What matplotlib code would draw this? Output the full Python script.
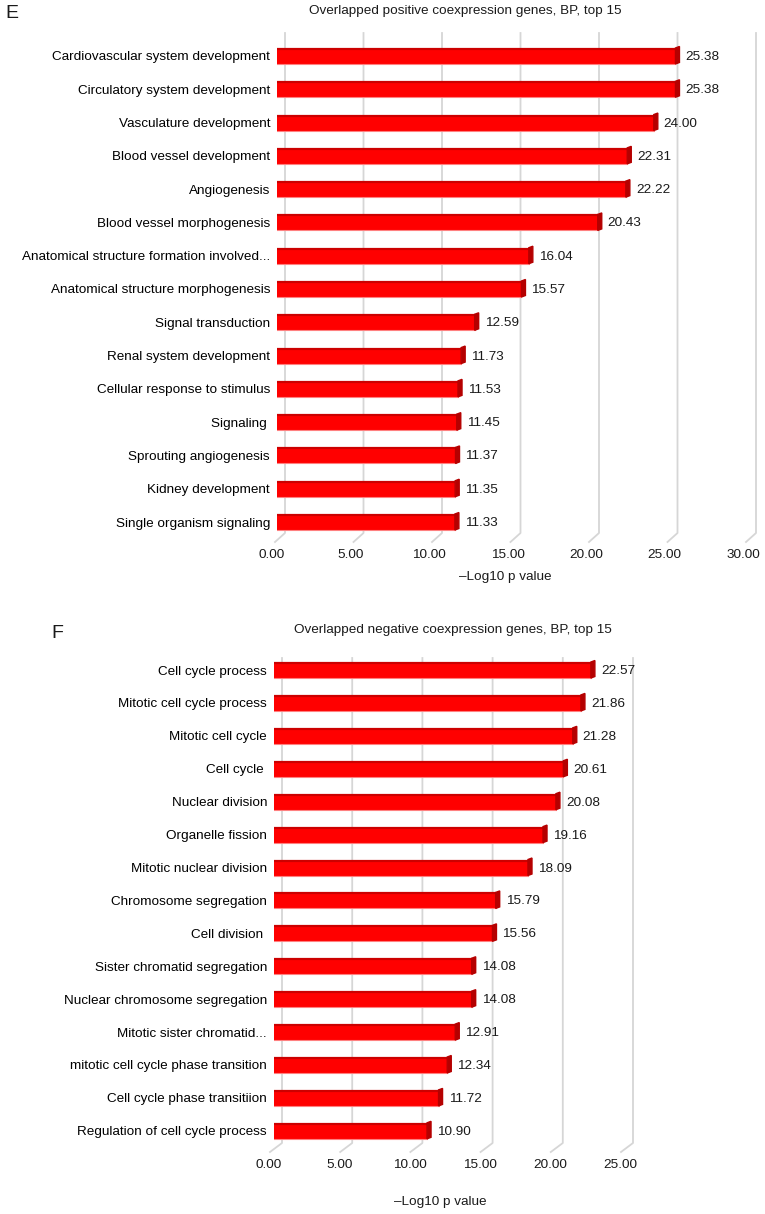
import matplotlib.pyplot as plt
from matplotlib.patches import Polygon

plt.rcParams['font.family'] = ['Liberation Sans', 'DejaVu Sans']
plt.rcParams['text.color'] = '#1a1a1a'

# Panel E: overlapped positive coexpression genes
pos_terms = ['Cardiovascular system development', 'Circulatory system development',
             'Vasculature development', 'Blood vessel development', 'Angiogenesis',
             'Blood vessel morphogenesis', 'Anatomical structure formation involved...',
             'Anatomical structure morphogenesis', 'Signal transduction',
             'Renal system development', 'Cellular response to stimulus', 'Signaling ',
             'Sprouting angiogenesis', 'Kidney development', 'Single organism signaling']
pos_values = [25.38, 25.38, 24.00, 22.31, 22.22, 20.43, 16.04, 15.57, 12.59,
              11.73, 11.53, 11.45, 11.37, 11.35, 11.33]
pos_ticks = [0, 5, 10, 15, 20, 25, 30]

# Panel F: overlapped negative coexpression genes
neg_terms = ['Cell cycle process', 'Mitotic cell cycle process', 'Mitotic cell cycle',
             'Cell cycle ', 'Nuclear division', 'Organelle fission', 'Mitotic nuclear division',
             'Chromosome segregation', 'Cell division ', 'Sister chromatid segregation',
             'Nuclear chromosome segregation', 'Mitotic sister chromatid...',
             'mitotic cell cycle phase transition', 'Cell cycle phase transitiion',
             'Regulation of cell cycle process']
neg_values = [22.57, 21.86, 21.28, 20.61, 20.08, 19.16, 18.09, 15.79, 15.56, 14.08,
              14.08, 12.91, 12.34, 11.72, 10.90]
neg_ticks = [0, 5, 10, 15, 20, 25]

W, H = 765, 1214
FS = 9.7
fig = plt.figure(figsize=(W / 100, H / 100), dpi=100)


def px_box(left, top, right, bottom):
    return [left / W, 1 - bottom / H, (right - left) / W, (bottom - top) / H]


def draw_panel(ax, terms, values, ticks, ylim, back_dx, foot_dx, label_dx):
    xmax = ticks[-1]
    box = ax.get_position()
    wpx, hpx = box.width * W, box.height * H
    ppx = wpx / xmax                      # pixels per x unit
    ppy = hpx / (ylim[0] - ylim[1])       # pixels per row
    ax.set_xlim(0, xmax)
    ax.set_ylim(*ylim)
    for s in ax.spines.values():
        s.set_visible(False)
    ax.set_xticks([])
    ax.set_yticks(range(len(terms)), terms, fontsize=FS)
    ax.tick_params(axis='y', length=0, pad=5)

    # 3D-ish gridlines on the back wall with a slanted floor foot
    xt = ax.get_xaxis_transform()
    for t in ticks:
        xb = t + back_dx / ppx
        xf = t + foot_dx / ppx
        ax.plot([xb, xb, xf], [1, 0, -9 / hpx], transform=xt, color='#d6d6d6',
                lw=1.3, clip_on=False, zorder=0, solid_joinstyle='round')
        ax.annotate(f'{t:.2f}', (t, 0), xycoords=xt, xytext=(label_dx, -22),
                    textcoords='offset pixels', ha='center', va='center', fontsize=FS)

    h = 16 / ppy
    dx, dy = 4 / ppx, 1.5 / ppy
    ys = range(len(values))
    ax.barh(ys, values, height=h, color='#ff0000', zorder=2)
    for y, v in zip(ys, values):
        ax.plot([0, v], [y - h / 2 + 1 / ppy, y - h / 2 + 1 / ppy], color='#cc0000',
                lw=1.6, zorder=3, solid_capstyle='butt')
        ax.plot([0, v], [y + h / 2, y + h / 2], color='#ff8080', lw=0.8, zorder=3)
        cap = Polygon([(v, y - h / 2), (v + dx, y - h / 2 - dy),
                       (v + dx, y + h / 2 - dy), (v, y + h / 2)],
                      closed=True, color='#b50000', zorder=3)
        ax.add_patch(cap)
        ax.annotate(f'{v:.2f}', (v, y), xytext=(10, -1), textcoords='offset pixels',
                    ha='left', va='center', fontsize=FS)


ax1 = fig.add_axes(px_box(277, 33, 748, 533))
draw_panel(ax1, pos_terms, pos_values, pos_ticks, (14.33, -0.69), 8, -2, -5)

ax2 = fig.add_axes(px_box(274, 658, 625, 1143))
draw_panel(ax2, neg_terms, neg_values, neg_ticks, (14.37, -0.365), 8, -4, -5)

fig.text(5 / W, 1 - 14 / H, 'E', fontsize=14, ha='left', va='center')
fig.text(465 / W, 1 - 11 / H, 'Overlapped positive coexpression genes, BP, top 15',
         fontsize=FS, ha='center', va='center')
fig.text(505 / W, 1 - 577 / H, '\u2013Log10 p value', fontsize=FS, ha='center', va='center')

fig.text(51 / W, 1 - 633 / H, 'F', fontsize=14, ha='left', va='center')
fig.text(453 / W, 1 - 630 / H, 'Overlapped negative coexpression genes, BP, top 15',
         fontsize=FS, ha='center', va='center')
fig.text(440 / W, 1 - 1202 / H, '\u2013Log10 p value', fontsize=FS, ha='center', va='center')

fig.savefig('out.png', dpi=100, facecolor='white')
